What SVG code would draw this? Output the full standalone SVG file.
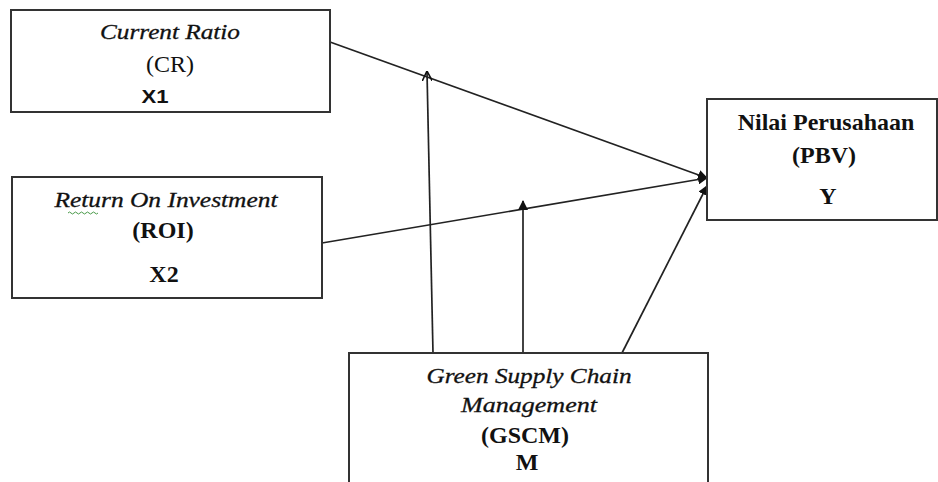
<svg xmlns="http://www.w3.org/2000/svg" width="938" height="482" viewBox="0 0 938 482">
<style>
.box{fill:#fff;stroke:#333;stroke-width:2}
.ln{stroke:#222;stroke-width:1.7;fill:none}
.t{font-family:"Liberation Serif","DejaVu Serif",serif;fill:#111;text-anchor:middle}
.i{font-style:italic;font-size:21px;stroke:#111;stroke-width:0.3}
.r{font-size:24px}
.b{font-weight:bold;font-size:24px}
.s{font-family:"Liberation Sans",Arial,sans-serif;font-weight:bold;font-size:18px;fill:#111;text-anchor:middle}
</style>
<defs>
<marker id="fill" viewBox="0 0 10 10" refX="9" refY="5" markerWidth="10" markerHeight="10" markerUnits="userSpaceOnUse" orient="auto"><path d="M0,0 L10,5 L0,10 z" fill="#111"/></marker>
<marker id="open" viewBox="0 0 10 10" refX="9" refY="5" markerWidth="10" markerHeight="10" markerUnits="userSpaceOnUse" orient="auto"><path d="M0,0 L10,5 L0,10" fill="none" stroke="#111" stroke-width="1.6"/></marker>
</defs>
<rect width="938" height="482" fill="#fff"/>
<g id="connectors">
<line class="ln" x1="330" y1="42" x2="707" y2="178" marker-end="url(#fill)"/>
<line class="ln" x1="322" y1="243" x2="707" y2="178" marker-end="url(#fill)"/>
<line class="ln" x1="622" y1="353" x2="707" y2="186" marker-end="url(#fill)"/>
<line class="ln" x1="433" y1="353" x2="427" y2="72" marker-end="url(#open)"/>
<line class="ln" x1="523" y1="353" x2="523" y2="201" marker-end="url(#fill)"/>
</g>
<g id="cr">
<rect class="box" x="11" y="10" width="319" height="102"/>
<text class="t i" x="170" y="39" textLength="140" lengthAdjust="spacingAndGlyphs">Current Ratio</text>
<text class="t r" x="170" y="72">(CR)</text>
<text class="s" x="155" y="103" textLength="27" lengthAdjust="spacingAndGlyphs">X1</text>
</g>
<g id="roi">
<rect class="box" x="12" y="177" width="310" height="121"/>
<text class="t i" x="166" y="207" textLength="223" lengthAdjust="spacingAndGlyphs">Return On Investment</text>
<path d="M68,213 q1.5,-2 3,0 t3,0 t3,0 t3,0 t3,0 t3,0 t3,0 t3,0 t3,0 t3,0" fill="none" stroke="#4a9a4a" stroke-width="1"/>
<text class="t b" x="163" y="238">(ROI)</text>
<text class="t b" x="164" y="282">X2</text>
</g>
<g id="pbv">
<rect class="box" x="707" y="99" width="230" height="121"/>
<text class="t b" x="826" y="130">Nilai Perusahaan</text>
<text class="t b" x="824" y="163">(PBV)</text>
<text class="t b" x="828" y="204">Y</text>
</g>
<g id="gscm">
<rect class="box" x="349" y="353" width="359" height="140"/>
<text class="t i" x="529" y="383" textLength="205" lengthAdjust="spacingAndGlyphs">Green Supply Chain</text>
<text class="t i" x="529" y="412" textLength="136" lengthAdjust="spacingAndGlyphs">Management</text>
<text class="t b" x="525" y="443">(GSCM)</text>
<text class="t b" x="527" y="470">M</text>
</g>
</svg>
